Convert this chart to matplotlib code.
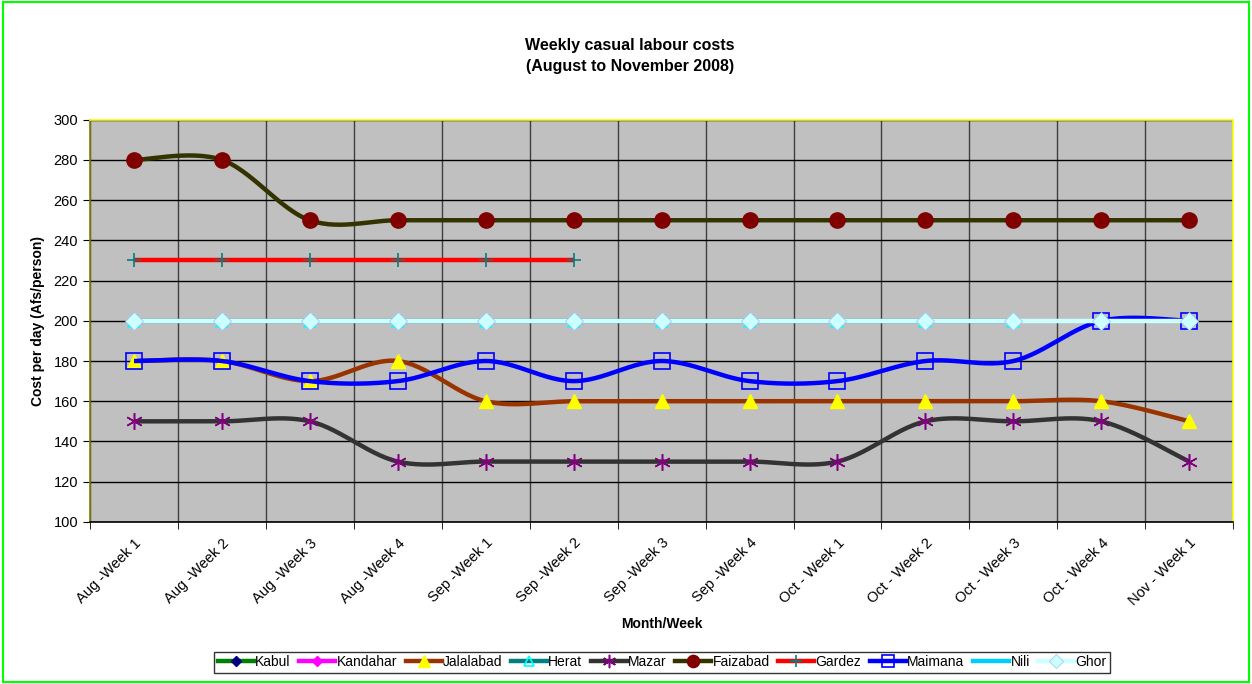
import matplotlib
matplotlib.use("Agg")
from matplotlib import pyplot as plt
from matplotlib.patches import Rectangle
import numpy as np

plt.rcParams["font.family"] = ["Liberation Sans", "DejaVu Sans"]

weeks = ["Aug -Week 1", "Aug -Week 2", "Aug -Week 3", "Aug -Week 4",
         "Sep -Week 1", "Sep -Week 2", "Sep -Week 3", "Sep -Week 4",
         "Oct - Week 1", "Oct - Week 2", "Oct - Week 3", "Oct - Week 4",
         "Nov - Week 1"]

nan = np.nan
kabul = [nan] * 13
kandahar = [nan] * 13
jalalabad = [180, 180, 170, 180, 160, 160, 160, 160, 160, 160, 160, 160, 150]
herat = [200, 200, 200, 200, 200, 200, 200, 200, 200, 200, 200, nan, nan]
mazar = [150, 150, 150, 130, 130, 130, 130, 130, 130, 150, 150, 150, 130]
faizabad = [280, 280, 250, 250, 250, 250, 250, 250, 250, 250, 250, 250, 250]
gardez = [230, 230, 230, 230, 230, 230, nan, nan, nan, nan, nan, nan, nan]
maimana = [180, 180, 170, 170, 180, 170, 180, 170, 170, 180, 180, 200, 200]
nili = [nan] * 13
ghor = [200] * 13


def smooth(ys, n=30):
    # excel-style smoothed line (catmull-rom bezier)
    ys = np.asarray(ys, dtype=float)
    xs = np.arange(len(ys), dtype=float)
    ok = ~np.isnan(ys)
    px, py = xs[ok], ys[ok]
    if len(px) < 2:
        return px, py
    outx, outy = [], []
    m = len(px)
    t = np.linspace(0, 1, n)
    for i in range(m - 1):
        p0 = np.array([px[max(i - 1, 0)], py[max(i - 1, 0)]])
        p1 = np.array([px[i], py[i]])
        p2 = np.array([px[i + 1], py[i + 1]])
        p3 = np.array([px[min(i + 2, m - 1)], py[min(i + 2, m - 1)]])
        c1 = p1 + (p2 - p0) / 6
        c2 = p2 - (p3 - p1) / 6
        b = ((1 - t) ** 3)[:, None] * p1 + (3 * (1 - t) ** 2 * t)[:, None] * c1 \
            + (3 * (1 - t) * t ** 2)[:, None] * c2 + (t ** 3)[:, None] * p2
        outx.extend(b[:, 0])
        outy.extend(b[:, 1])
    return np.array(outx), np.array(outy)


series = [
    ("Kabul", kabul, "#008000", dict(marker="D", mfc="#000080", mec="#000080", ms=7)),
    ("Kandahar", kandahar, "#FF00FF", dict(marker="D", mfc="#FF00FF", mec="#FF00FF", ms=7)),
    ("Jalalabad", jalalabad, "#993300", dict(marker="^", mfc="#FFFF00", mec="#FFFF00", ms=10)),
    ("Herat", herat, "#008080", dict(marker="^", mfc="none", mec="#00FFFF", ms=9, mew=1.2)),
    ("Mazar", mazar, "#333333", dict(marker=(6, 2, 0), mfc="#800080", mec="#800080", ms=12, mew=1.1)),
    ("Faizabad", faizabad, "#333300", dict(marker="o", mfc="#800000", mec="#800000", ms=11)),
    ("Gardez", gardez, "#FF0000", dict(marker="+", mfc="#008080", mec="#008080", ms=10, mew=1.2)),
    ("Maimana", maimana, "#0000FF", dict(marker="s", mfc="none", mec="#0000FF", ms=11, mew=1.2)),
    ("Nili", nili, "#00CCFF", dict(marker="None")),
    ("Ghor", ghor, "#CCFFFF", dict(marker="D", mfc="#CCFFFF", mec="#99CCFF", ms=9, mew=0.6)),
]

fig = plt.figure(figsize=(12.52, 6.84), dpi=100)
ax = fig.add_axes([0.0719, 0.237, 0.9131, 0.588])
ax.set_facecolor("#C0C0C0")

x = np.arange(len(weeks))
handles = []
for i, (name, ys, col, mk) in enumerate(series):
    sx, sy = smooth(ys)
    ax.plot(sx, sy, color=col, lw=3.2, solid_capstyle="butt", zorder=3 + i)
    ax.plot(x, ys, ls="none", zorder=3 + i, **mk)
    h, = ax.plot([], [], color=col, lw=3.2, **mk)
    handles.append((h, name))

ax.set_xlim(-0.5, len(weeks) - 0.5)
ax.set_ylim(100, 300)
ax.set_yticks(np.arange(100, 301, 20))
ax.set_xticks(x)
ax.set_xticklabels(weeks, rotation=45, ha="right", rotation_mode="anchor", fontsize=10.5)
ax.set_xticks(np.arange(-0.5, len(weeks), 1), minor=True)
ax.tick_params(axis="x", which="major", length=0, pad=10)
ax.tick_params(axis="x", which="minor", length=5, direction="out")
ax.tick_params(axis="y", labelsize=10.5, length=5, direction="out")

ax.grid(True, axis="y", color="black", lw=1, zorder=1)
ax.grid(True, axis="x", which="minor", color="#404040", lw=1, zorder=1)
ax.set_axisbelow(True)

ax.spines["left"].set_color("#808000")
ax.spines["top"].set_color("#FFFF00")
ax.spines["right"].set_color("#FFFF00")
ax.spines["bottom"].set_color("black")
for s in ax.spines.values():
    s.set_linewidth(1.2)

ax.set_xlabel("Month/Week", fontsize=10, fontweight="bold", labelpad=6)
ax.set_ylabel("Cost per day (Afs/person)", fontsize=10, fontweight="bold", labelpad=6)
fig.text(0.503, 0.918, "Weekly casual labour costs\n(August to November 2008)",
         ha="center", va="center", fontsize=11.5, fontweight="bold", linespacing=1.45)

leg = fig.legend([h for h, _ in handles], [n for _, n in handles], ncol=10,
                 loc="center", bbox_to_anchor=(0.529, 0.032), fontsize=10,
                 frameon=True, fancybox=False, edgecolor="black",
                 handlelength=2.6, handletextpad=0.1, columnspacing=0.6,
                 borderpad=0.25, markerscale=0.8)
leg.get_frame().set_linewidth(1)

fig.patches.append(Rectangle((0.002, 0.003), 0.996, 0.994, transform=fig.transFigure,
                             fill=False, edgecolor="#00FF00", lw=1.5))

fig.savefig("out.png", dpi=100)
